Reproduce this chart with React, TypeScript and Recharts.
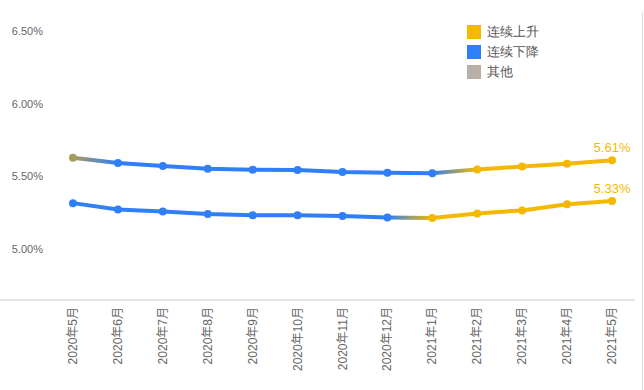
import { LineChart, Line, XAxis, YAxis } from 'recharts';

const months = [
  '2020年5月', '2020年6月', '2020年7月', '2020年8月', '2020年9月', '2020年10月', '2020年11月',
  '2020年12月', '2021年1月', '2021年2月', '2021年3月', '2021年4月', '2021年5月',
];
const upperRate = [5.628, 5.592, 5.571, 5.553, 5.546, 5.543, 5.53, 5.525, 5.521, 5.548, 5.567, 5.587, 5.61];
const lowerRate = [5.316, 5.273, 5.259, 5.241, 5.232, 5.232, 5.227, 5.218, 5.213, 5.245, 5.266, 5.309, 5.33];
const upperTrend = ['其他', '连续下降', '连续下降', '连续下降', '连续下降', '连续下降', '连续下降', '连续下降', '连续下降', '连续上升', '连续上升', '连续上升', '连续上升'];
const lowerTrend = ['连续下降', '连续下降', '连续下降', '连续下降', '连续下降', '连续下降', '连续下降', '连续下降', '连续上升', '连续上升', '连续上升', '连续上升', '连续上升'];
const yTicks = [5.0, 5.5, 6.0, 6.5];
const legendItems = ['连续上升', '连续下降', '其他'];

const TREND_COLORS: Record<string, string> = {
  连续上升: '#f5b800',
  连续下降: '#2e7ff8',
  其他: '#b9afa8',
};
const DOT_COLORS: Record<string, string> = {
  连续上升: '#f5b800',
  连续下降: '#2e7ff8',
  其他: '#a89a5e',
};

const data = months.map((month, i) => ({ month, upper: upperRate[i], lower: lowerRate[i] }));

const gradientStops = (trend: string[]) =>
  trend.map((t, i) => (
    <stop key={i} offset={`${(i / (trend.length - 1)) * 100}%`} stopColor={DOT_COLORS[t]} />
  ));

const makeDot = (trend: string[]) => (props: any) => (
  <circle key={props.index} cx={props.cx} cy={props.cy} r={4} fill={DOT_COLORS[trend[props.index]]} />
);

const endLabel = (props: any) => {
  if (props.index !== months.length - 1) return null;
  return (
    <text x={props.x} y={props.y - 13} textAnchor="middle" dominantBaseline="central" fill="#f5b800" fontSize={13}>
      {Number(props.value).toFixed(2)}%
    </text>
  );
};

const XTick = (props: any) => (
  <g transform={`translate(${props.x},${props.y - 1})`}>
    <text transform="rotate(-90)" textAnchor="end" dominantBaseline="central" fill="#666" fontSize={12}>
      {props.payload.value}
    </text>
  </g>
);

const YTick = (props: any) => (
  <text x={43} y={props.y} textAnchor="end" dominantBaseline="central" fill="#666" fontSize={11}>
    {Number(props.payload.value).toFixed(2)}%
  </text>
);

export default function App() {
  return (
    <div style={{ position: 'absolute', left: 0, top: 0, width: 644, height: 390, fontFamily: 'Arial, "Liberation Sans", "Noto Sans CJK SC", sans-serif' }}>
      <LineChart width={644} height={390} data={data} margin={{ top: 12, right: 9, bottom: 0, left: 0 }}>
        <defs>
          <linearGradient id="upperGrad" x1="0" y1="0" x2="1" y2="0">
            {gradientStops(upperTrend)}
          </linearGradient>
          <linearGradient id="lowerGrad" x1="0" y1="0" x2="1" y2="0">
            {gradientStops(lowerTrend)}
          </linearGradient>
        </defs>
        <XAxis
          dataKey="month"
          interval={0}
          height={90}
          tickLine={false}
          axisLine={{ stroke: '#ccc' }}
          padding={{ left: 73, right: 23 }}
          tick={<XTick />}
        />
        <YAxis
          mirror
          domain={[4.65, 6.63]}
          ticks={yTicks}
          allowDataOverflow
          axisLine={false}
          tickLine={false}
          tick={<YTick />}
        />
        <Line
          dataKey="upper"
          stroke="url(#upperGrad)"
          strokeWidth={4}
          dot={makeDot(upperTrend)}
          activeDot={false}
          label={endLabel}
          isAnimationActive={false}
        />
        <Line
          dataKey="lower"
          stroke="url(#lowerGrad)"
          strokeWidth={4}
          dot={makeDot(lowerTrend)}
          activeDot={false}
          label={endLabel}
          isAnimationActive={false}
        />
      </LineChart>
      <div style={{ position: 'absolute', left: 642, top: 12, width: 1, height: 378, background: '#ddd' }} />
      <div style={{ position: 'absolute', left: 467, top: 22, fontFamily: 'serif', fontSize: 13, color: '#555' }}>
        {legendItems.map((item) => (
          <div key={item} style={{ display: 'flex', alignItems: 'center', height: 20 }}>
            <span style={{ width: 14, height: 14, background: TREND_COLORS[item], marginRight: 6 }} />
            {item}
          </div>
        ))}
      </div>
    </div>
  );
}
